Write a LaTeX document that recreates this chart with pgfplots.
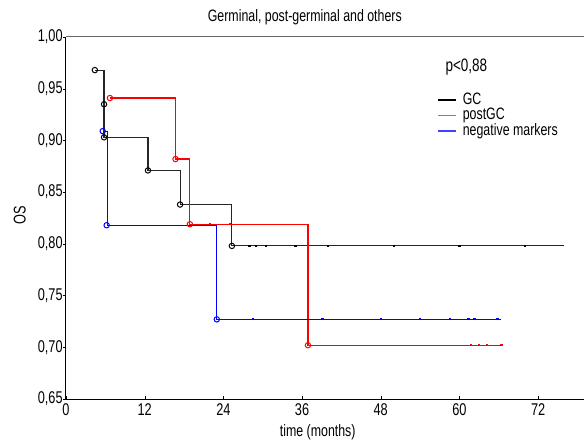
\documentclass[border=0pt]{standalone}
\usepackage{pgfplots}
\pgfplotsset{compat=1.18}
\usepackage{fontspec}
\setmainfont{Liberation Sans}[FakeStretch=0.75]
\begin{document}
\fontsize{17}{19}\selectfont
\begin{tikzpicture}
\begin{axis}[
  name=ax,
  scale only axis,
  width=518pt, height=362pt,
  xmin=0, xmax=79, ymin=0.65, ymax=1.0,
  xtick={0,12,24,36,48,60,72},
  ytick={0.65,0.70,0.75,0.80,0.85,0.90,0.95,1.00},
  yticklabel style={/pgf/number format/fixed, /pgf/number format/fixed zerofill, /pgf/number format/precision=2, /pgf/number format/use comma, xshift=2.5pt},
  /pgf/number format/assume math mode=true,
  ticklabel style={font=\fontsize{17}{19}\selectfont},
  tick align=inside,
  major tick length=3pt,
  y tick style={xshift=-3pt, black},
  x tick style={black},
  xticklabel style={yshift=1pt},
  axis x line*=bottom, axis y line*=left,
  axis line style={-, black, line width=1pt},
  title={Germinal, post-germinal and others},
  title style={at={(axis description cs:0.461,1.037)}, anchor=center, font=\fontsize{16.5}{18}\selectfont},
  xlabel={time (months)},
  xlabel style={at={(axis description cs:0.486,-0.091)}, anchor=center, font=\fontsize{16.5}{18}\selectfont},
  ylabel={OS},
  ylabel style={at={(axis description cs:-0.089,0.508)}, anchor=center},
  legend style={at={(axis description cs:0.717,0.848)}, anchor=north west, draw=none, fill=none,
     inner sep=0pt, row sep=0pt, font=\fontsize{16.5}{17}\selectfont,
     nodes={inner sep=0.5pt, text height=11.5pt, text depth=3pt}},
  legend cell align=left,
]
% GC
\addplot[black!85, line width=1.1pt, forget plot] coordinates {
 (4.4,0.968) (5.8,0.968) (5.8,0.903) (12.5,0.903) (12.5,0.871) (17.4,0.871)
 (17.4,0.838) (25.3,0.838) (25.3,0.798) (76,0.798)};
% postGC
\addplot[red, line width=1.1pt, forget plot] coordinates {
 (6.7,0.941) (16.7,0.941) (16.7,0.882) (18.9,0.882) (18.9,0.819) (36.9,0.819)
 (36.9,0.702) (66.7,0.702)};
% negative markers
\addplot[blue, line width=1.1pt, forget plot] coordinates {
 (5.6,0.909) (6.3,0.909) (6.3,0.818) (22.9,0.818) (22.9,0.727) (66.3,0.727)};
% event circles
\addplot[only marks, mark=o, mark size=2.7pt, black, mark options={fill=white, line width=1pt}, forget plot]
 coordinates {(4.4,0.968) (5.8,0.935) (5.8,0.903) (12.5,0.871) (17.4,0.838) (25.3,0.798)};
\addplot[only marks, mark=o, mark size=2.7pt, red, mark options={fill=white, line width=1pt}, forget plot]
 coordinates {(6.7,0.941) (16.7,0.882) (18.9,0.819) (36.9,0.702)};
\addplot[only marks, mark=o, mark size=2.7pt, blue, mark options={fill=white, line width=1pt}, forget plot]
 coordinates {(5.6,0.909) (6.2,0.818) (23.0,0.727)};
% censor marks
\addplot[only marks, mark=-, mark size=1.2pt, black, mark options={line width=2pt}, forget plot]
 coordinates {(28,0.798) (29,0.798) (30.5,0.798) (35,0.798) (40,0.798) (50,0.798) (60,0.798) (70,0.798)};
\addplot[only marks, mark=-, mark size=1.2pt, red, mark options={line width=2pt}, forget plot]
 coordinates {(22,0.819) (25,0.819) (61.8,0.702) (63,0.702) (64.2,0.702) (66.4,0.702)};
\addplot[only marks, mark=-, mark size=1.2pt, blue, mark options={line width=2pt}, forget plot]
 coordinates {(28.5,0.727) (39.1,0.727) (48,0.727) (54,0.727) (58.6,0.727) (61.4,0.727) (62.3,0.727) (65.8,0.727)};
\addlegendimage{legend image code/.code={\draw[black, line width=1.1pt] (0pt,0pt) -- (18pt,0pt); \path (24pt,0pt);}}
\addlegendentry{GC}
\addlegendimage{legend image code/.code={\draw[red!70, line width=1.1pt] (0pt,0pt) -- (18pt,0pt); \path (24pt,0pt);}}
\addlegendentry{postGC}
\addlegendimage{legend image code/.code={\draw[blue!75, line width=1.1pt] (0pt,0pt) -- (18pt,0pt); \path (24pt,0pt);}}
\addlegendentry{negative markers}
\draw[black!60, line width=1pt] (rel axis cs:0,1) -- (rel axis cs:1,1);
\node[font=\fontsize{18}{19}\selectfont] at (axis description cs:0.773,0.916) {p<0,88};
\end{axis}
\pgfresetboundingbox
\path[use as bounding box] ([shift={(-66pt,-47pt)}]ax.south west) rectangle ([shift={(0pt,37pt)}]ax.north east);
\end{tikzpicture}
\end{document}
